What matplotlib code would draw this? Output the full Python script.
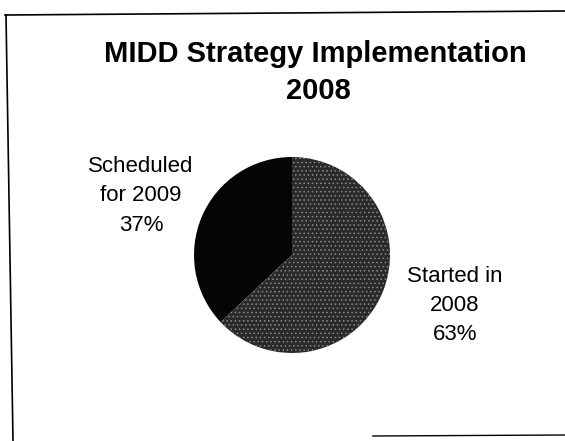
import matplotlib.pyplot as plt
import matplotlib.lines as mlines

labels = ['Scheduled\nfor 2009\n37%', 'Started in\n2008\n63%']
values = [37, 63]
colors = ['#050505', '#2a2a2a']
title_lines = ['MIDD Strategy Implementation', '2008']

W, H = 565, 441

plt.rcParams['font.family'] = ['Liberation Sans', 'DejaVu Sans']
plt.rcParams['hatch.linewidth'] = 0.6

fig = plt.figure(figsize=(W / 100, H / 100), dpi=100)
fig.patch.set_facecolor('white')

# pie center and radius in pixels
cx, cy, r = 292, 255, 98
ax = fig.add_axes([(cx - r) / W, (H - cy - r) / H, 2 * r / W, 2 * r / H])
wedges, _ = ax.pie(values, colors=colors, startangle=90, counterclock=True,
                   wedgeprops=dict(linewidth=0))
wedges[1].set_hatch('....')
wedges[1].set_edgecolor('#8a8a8a')
ax.set_xlim(-1, 1)
ax.set_ylim(-1, 1)
ax.axis('off')

def px(x, y):
    return x / W, 1 - y / H

# title, one baseline per line
for line, (x, y) in zip(title_lines, [(315, 62), (318, 99)]):
    fig.text(*px(x, y), line, ha='center', va='baseline',
             fontsize=21, fontweight='bold')

# slice labels, one baseline per line
label_pos = [(141, [172, 201, 231]), (455, [282, 311, 340])]
for lab, (x, ys) in zip(labels, label_pos):
    for line, y in zip(lab.split('\n'), ys):
        fig.text(*px(x, y), line, ha='center', va='baseline', fontsize=16)

# scanned page border
fig.add_artist(mlines.Line2D([5 / W, 1], [1 - 15 / H, 1 - 11 / H], color='black', lw=1.2))
fig.add_artist(mlines.Line2D([6 / W, 13 / W], [1 - 15 / H, 0], color='black', lw=1.2))
fig.add_artist(mlines.Line2D([373 / W, 1], [1 - 436 / H, 1 - 435 / H], color='black', lw=1.0))

fig.savefig('out.png', dpi=100)
